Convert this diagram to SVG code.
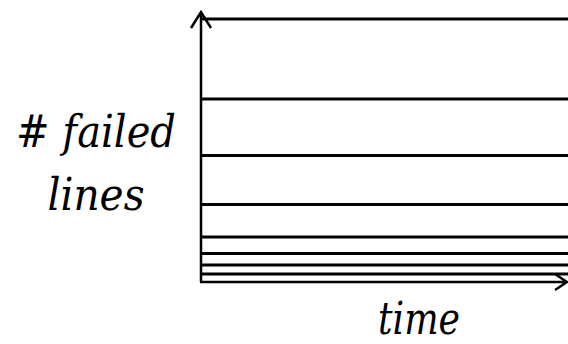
<svg xmlns="http://www.w3.org/2000/svg" width="568" height="344" viewBox="0 0 568 344">
<style>
.lvl{stroke:#000;stroke-width:3;fill:none}
.ax{stroke:#000;stroke-width:2.5;fill:none}
.lab{font-family:"DejaVu Serif",serif;font-style:italic;font-size:44px;fill:#000}
</style>
<rect width="568" height="344" fill="#fff"/>
<g id="levels">
<line class="lvl" x1="201" y1="19" x2="568" y2="19"/>
<line class="lvl" x1="201" y1="99" x2="568" y2="99"/>
<line class="lvl" x1="201" y1="155.5" x2="568" y2="155.5"/>
<line class="lvl" x1="201" y1="204.5" x2="568" y2="204.5"/>
<line class="lvl" x1="201" y1="237" x2="568" y2="237"/>
<line class="lvl" x1="201" y1="253.5" x2="568" y2="253.5"/>
<line class="lvl" x1="201" y1="265" x2="568" y2="265"/>
<line class="lvl" x1="201" y1="274" x2="568" y2="274"/>
</g>
<g id="axes">
<path class="ax" d="M201,282 V12 M191,28 L201,12 L211,28"/>
<path class="ax" d="M200,282 H567 M555,274 L567,282 L555,290"/>
</g>
<g id="labels">
<text class="lab" x="96" y="147" text-anchor="middle" textLength="160" lengthAdjust="spacingAndGlyphs"># failed</text>
<text class="lab" x="96" y="210" text-anchor="middle" textLength="97" lengthAdjust="spacingAndGlyphs">lines</text>
<text class="lab" x="419" y="334" text-anchor="middle" textLength="82" lengthAdjust="spacingAndGlyphs">time</text>
</g>
</svg>
